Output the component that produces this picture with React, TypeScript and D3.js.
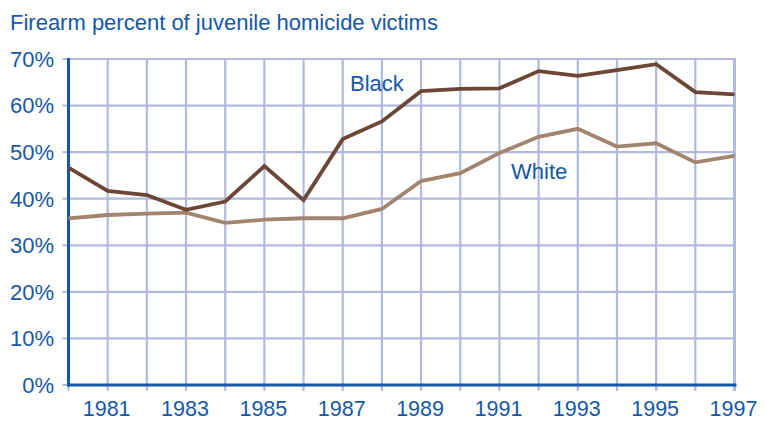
import React from "react";
import * as d3 from "d3";

const years = [1980,1981,1982,1983,1984,1985,1986,1987,1988,1989,1990,1991,1992,1993,1994,1995,1996,1997];
const blackValues = [46.7,41.7,40.8,37.6,39.4,47.0,39.7,52.8,56.6,63.1,63.6,63.7,67.4,66.4,67.6,68.9,62.9,62.4];
const whiteValues = [35.8,36.5,36.8,37.0,34.8,35.5,35.8,35.8,37.8,43.8,45.5,49.8,53.3,55.0,51.2,51.9,47.8,49.2];
const yTicks = [0,10,20,30,40,50,60,70];
const xTickLabels = [1981,1983,1985,1987,1989,1991,1993,1995,1997];
const title = "Firearm percent of juvenile homicide victims";

const W = 766, H = 421;
const left = 68.5, right = 734.5, top = 59, bottom = 385;
const BLUE = "#1558a7";
const GRID = "#b1badd";
const FONT = "'Liberation Sans', Arial, sans-serif";

export default function App() {
  const x = d3.scaleLinear().domain([1980, 1997]).range([left, right]);
  const y = d3.scaleLinear().domain([0, 70]).range([bottom, top]);
  const line = d3.line<number>().x((_, i) => x(years[i])).y(d => y(d));

  return (
    <svg width={W} height={H} style={{ position: "absolute", left: 0, top: 0, background: "#fff" }} fontFamily={FONT}>
      <text x={10} y={29.5} fontSize={22} fill={BLUE}>{title}</text>
      {/* horizontal gridlines */}
      {yTicks.filter(t => t > 0).map(t => (
        <line key={"h" + t} x1={left} x2={right + 1.5} y1={y(t)} y2={y(t)} stroke={GRID} strokeWidth={2.2} />
      ))}
      {/* vertical gridlines */}
      {years.filter(yr => yr > 1980).map(yr => (
        <line key={"v" + yr} x1={x(yr)} x2={x(yr)} y1={top - 1} y2={bottom + 6} stroke={GRID} strokeWidth={yr === 1997 ? 3 : 2.2} />
      ))}
      {/* y ticks */}
      {yTicks.map(t => (
        <line key={"yt" + t} x1={left - 6} x2={left} y1={y(t)} y2={y(t)} stroke={GRID} strokeWidth={2} />
      ))}
      {/* x tick at 1980 */}
      <line x1={x(1980)} x2={x(1980)} y1={bottom} y2={bottom + 6} stroke={GRID} strokeWidth={2} />
      {/* axes */}
      <line x1={left} x2={left} y1={top - 1} y2={bottom + 1.5} stroke={BLUE} strokeWidth={3} />
      <line x1={left} x2={right + 2} y1={bottom} y2={bottom} stroke={BLUE} strokeWidth={3} />
      {/* y labels */}
      {yTicks.map(t => (
        <text key={"yl" + t} x={54} y={y(t)} dy="0.36em" textAnchor="end" fontSize={22} fill={BLUE}>{t}%</text>
      ))}
      {/* x labels */}
      {xTickLabels.map(yr => (
        <text key={"xl" + yr} x={x(yr) - 1} y={416} textAnchor="middle" fontSize={21.5} fill={BLUE}>{yr}</text>
      ))}
      {/* series */}
      <path d={line(whiteValues) || ""} fill="none" stroke="#a2846f" strokeWidth={3.8} strokeLinejoin="miter" />
      <path d={line(blackValues) || ""} fill="none" stroke="#6c4637" strokeWidth={3.8} strokeLinejoin="miter" />
      <text x={350} y={90.5} fontSize={22} fill={BLUE}>Black</text>
      <text x={511} y={178.5} fontSize={22} fill={BLUE}>White</text>
    </svg>
  );
}
